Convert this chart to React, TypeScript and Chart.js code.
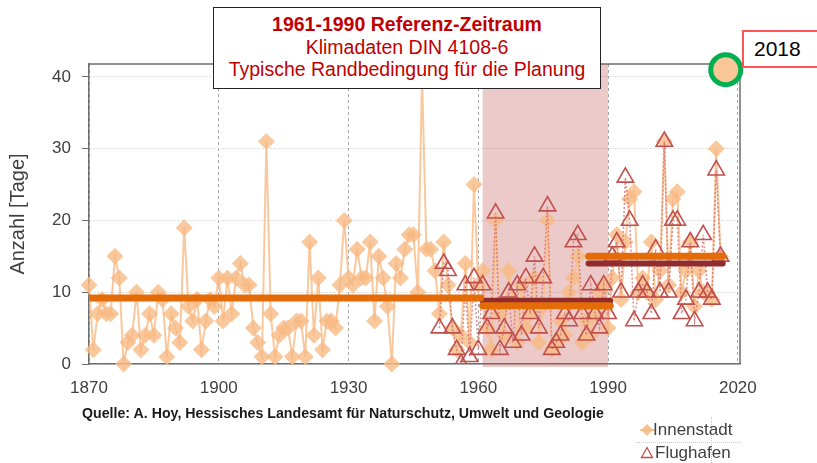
import React, { useEffect, useRef } from "react";
import { Chart, registerables } from "chart.js";

Chart.register(...registerables);

// ---------- data ----------
const innenstadtStartYear = 1870;
const innenstadtValues = [
  // 1870-1879
  11, 2, 7, 9, 7, 7, 15, 12, 0, 3,
  // 1880-1889
  4, 10, 2, 4, 7, 4, 10, 9, 1, 7,
  // 1890-1899
  5, 3, 19, 8, 6, 9, 2, 6, 9, 8,
  // 1900-1909
  12, 6, 12, 7, 12, 14, 11, 11, 5, 3,
  // 1910-1919
  1, 31, 7, 1, 4, 5, 5, 1, 6, 6,
  // 1920-1929
  1, 17, 4, 12, 2, 6, 6, 5, 11, 20,
  // 1930-1939
  12, 11, 16, 12, 12, 17, 6, 15, 12, 8,
  // 1940-1949
  0, 14, 12, 16, 18, 18, 10, 40, 16, 16,
  // 1950-1959
  13, 7, 17, 11, 5, 2, 4, 14, 3, 25,
  // 1960
  11,
  // 1961-1970
  13, 5, 2, 20, 7, 4, 13, 9, 3, 11,
  // 1971-1980
  5, 7, 12, 3, 8, 20, 2, 3, 6, 4,
  // 1981-1990
  10, 12, 15, 3, 6, 4, 7, 10, 11, 5,
  // 1991-2000
  12, 18, 9, 17, 23, 24, 10, 12, 10, 17,
  // 2001-2010
  9, 13, 31, 11, 23, 24, 10, 13, 17, 8,
  // 2011-2016
  13, 10, 10, 9, 30, 15,
];

const flughafenStartYear = 1951;
const flughafenValues = [
  // 1951-1960
  5, 14, 13, 5, 2, 0, 11, 1, 12, 2,
  // 1961-1970
  11, 5, 7, 21, 2, 5, 10, 3, 11, 4,
  // 1971-1980
  12, 7, 15, 5, 12, 22, 2, 3, 4, 7,
  // 1981-1990
  6, 17, 18, 7, 4, 11, 7, 5, 11, 7,
  // 1991-2000
  15, 17, 10, 26, 20, 6, 10, 11, 10, 7,
  // 2001-2010
  16, 10, 31, 10, 20, 20, 7, 9, 17, 6,
  // 2011-2016
  10, 18, 10, 9, 27, 15,
];

// period means: [from, to, value]
const innenstadtMeanFrom = [1870, 1961, 1985.5];
const innenstadtMeanTo = [1960.5, 1990.5, 2016.5];
const innenstadtMeanValue = [9.2, 8.1, 15.0];

const flughafenMeanFrom = [1961, 1985.5];
const flughafenMeanTo = [1990.5, 2016.5];
const flughafenMeanValue = [8.8, 14.0];

const highlightYear = 2017.2;
const highlightValue = 41;

const referencePeriod = [1961, 1990];

const xTickValues = [1870, 1900, 1930, 1960, 1990, 2020];
const yTickValues = [0, 10, 20, 30, 40];

const FONT = '"Liberation Sans", Arial, Helvetica, sans-serif';

export default function App() {
  const ref = useRef<HTMLCanvasElement>(null);

  useEffect(() => {
    if (!ref.current) return;

    const innenstadtPoints = innenstadtValues.map((v, i) => ({ x: innenstadtStartYear + i, y: v }));
    const flughafenPoints = flughafenValues.map((v, i) => ({ x: flughafenStartYear + i, y: v }));

    const meanSets: any[] = [];
    innenstadtMeanValue.forEach((v, i) => {
      meanSets.push({
        type: "line",
        data: [
          { x: innenstadtMeanFrom[i], y: v },
          { x: innenstadtMeanTo[i], y: v },
        ],
        borderColor: "#e36c09",
        borderWidth: 7,
        borderCapStyle: "round",
        pointRadius: 0,
        order: 0,
      });
    });
    flughafenMeanValue.forEach((v, i) => {
      meanSets.push({
        type: "line",
        data: [
          { x: flughafenMeanFrom[i], y: v },
          { x: flughafenMeanTo[i], y: v },
        ],
        borderColor: "#922c2c",
        borderWidth: 6,
        borderCapStyle: "round",
        pointRadius: 0,
        order: 1,
      });
    });

    const framePlugin = {
      id: "framePlugin",
      beforeDatasetsDraw(chart: any) {
        const { ctx, chartArea: a, scales } = chart;
        const x = scales.x;
        const x1 = x.getPixelForValue(referencePeriod[0]);
        const x2 = x.getPixelForValue(referencePeriod[1]);
        ctx.save();
        ctx.fillStyle = "rgba(192,80,77,0.3)";
        ctx.fillRect(x1, a.top, x2 - x1, a.bottom - a.top + 3);
        ctx.strokeStyle = "#6e6e6e";
        ctx.lineWidth = 1.5;
        ctx.beginPath();
        ctx.moveTo(a.left, a.top);
        ctx.lineTo(a.right, a.top);
        ctx.lineTo(a.right, a.bottom);
        ctx.stroke();
        ctx.restore();
      },
    };

    const chart = new Chart(ref.current, {
      type: "line",
      data: {
        datasets: [
          ...meanSets,
          {
            label: "Flughafen",
            data: flughafenPoints,
            borderColor: "rgba(214,120,118,0.85)",
            borderWidth: 1.5,
            borderDash: [2, 2],
            pointStyle: "triangle",
            pointRadius: 9.5,
            pointBackgroundColor: "rgba(255,255,255,0)",
            pointBorderColor: "#c0504d",
            pointBorderWidth: 1.6,
            order: 2,
          },
          {
            label: "Innenstadt",
            data: innenstadtPoints,
            borderColor: "rgba(248,190,140,0.85)",
            borderWidth: 2,
            pointStyle: "rectRot",
            pointRadius: 8.5,
            pointBackgroundColor: "rgba(247,186,132,0.8)",
            pointBorderWidth: 0,
            clip: 10,
            order: 3,
          },
          {
            label: "2018",
            data: [{ x: highlightYear, y: highlightValue }],
            showLine: false,
            pointStyle: "circle",
            pointRadius: 15,
            pointBackgroundColor: "#f8c797",
            pointBorderColor: "#00b050",
            pointBorderWidth: 5,
            clip: false,
            order: -1,
          },
        ] as any,
      },
      options: {
        responsive: false,
        animation: false,
        events: [],
        layout: { padding: { left: 0, top: 64, right: 77, bottom: 59 } },
        plugins: {
          legend: { display: false },
          tooltip: { enabled: false },
        },
        scales: {
          x: {
            type: "linear",
            min: 1870,
            max: 2020.5,
            afterBuildTicks: (s: any) => {
              s.ticks = xTickValues.map((v) => ({ value: v }));
            },
            afterFit: (s: any) => {
              s.height = 40;
            },
            grid: { color: "#a8a8a8", lineWidth: 1, drawTicks: false },
            border: { display: true, color: "#6e6e6e", width: 1.5, dash: [3, 3] },
            ticks: {
              padding: 14,
              color: "#404040",
              font: { family: FONT, size: 17 },
              maxRotation: 0,
              autoSkip: false,
              callback: (v: any) => String(v),
            },
          },
          y: {
            type: "linear",
            min: 0,
            max: 41.8,
            afterBuildTicks: (s: any) => {
              s.ticks = yTickValues.map((v) => ({ value: v }));
            },
            afterFit: (s: any) => {
              s.width = 89;
            },
            grid: { color: "#d6d6d6", lineWidth: 1, tickColor: "#6e6e6e", tickLength: 7, tickBorderDash: [] },
            border: { display: true, color: "#6e6e6e", width: 1.5, dash: [2, 2] },
            ticks: {
              padding: 11,
              color: "#404040",
              font: { family: FONT, size: 17 },
              callback: (v: any) => String(v),
            },
            title: {
              display: true,
              text: "Anzahl [Tage]",
              color: "#404040",
              font: { family: FONT, size: 20 },
              padding: { top: 6, bottom: 0 },
            },
          },
        },
      },
      plugins: [framePlugin],
    } as any);

    return () => chart.destroy();
  }, []);

  return (
    <div
      style={{
        position: "fixed",
        left: 0,
        top: 0,
        width: 817,
        height: 463,
        background: "#fff",
        overflow: "hidden",
        fontFamily: FONT,
      }}
    >
      <canvas ref={ref} width={817} height={463} style={{ width: 817, height: 463, display: "block" }} />

      {/* title annotation */}
      <div
        style={{
          position: "absolute",
          left: 213,
          top: 7,
          width: 388,
          height: 82,
          boxSizing: "border-box",
          border: "1.5px solid #222",
          background: "#fff",
          color: "#c00000",
          textAlign: "center",
          paddingTop: 5,
          lineHeight: "22.5px",
          fontSize: 19.5,
        }}
      >
        <div style={{ fontWeight: "bold" }}>1961-1990 Referenz-Zeitraum</div>
        <div>Klimadaten DIN 4108-6</div>
        <div>Typische Randbedingung für die Planung</div>
      </div>

      {/* 2018 annotation */}
      <div
        style={{
          position: "absolute",
          left: 742,
          top: 30,
          width: 90,
          height: 38,
          boxSizing: "border-box",
          border: "2px solid #ff5454",
          background: "#fff",
          color: "#000",
          fontSize: 21,
          lineHeight: "34px",
          paddingLeft: 10,
        }}
      >
        2018
      </div>

      {/* source */}
      <div
        style={{
          position: "absolute",
          left: 82,
          top: 404,
          fontSize: 14.2,
          fontWeight: "bold",
          color: "#1a1a1a",
          lineHeight: "18px",
          whiteSpace: "nowrap",
        }}
      >
        Quelle: A. Hoy, Hessisches Landesamt für Naturschutz, Umwelt und Geologie
      </div>

      {/* legend */}
      <div style={{ position: "absolute", left: 636, top: 442, width: 104, height: 0, borderTop: "1px dotted #c8c8c8" }} />
      <div style={{ position: "absolute", left: 711, top: 417, width: 0, height: 46, borderLeft: "1px dotted #c8c8c8" }} />
      <svg style={{ position: "absolute", left: 636, top: 418 }} width={24} height={45}>
        <line x1={4} y1={12} x2={20} y2={12} stroke="rgba(248,190,140,0.9)" strokeWidth={2} />
        <polygon points="11,6 17,12 11,18 5,12" fill="rgba(247,186,132,0.9)" />
        <polygon points="11,29.5 16.5,39.5 5.5,39.5" fill="none" stroke="#c0504d" strokeWidth={1.3} />
      </svg>
      <div
        style={{
          position: "absolute",
          left: 653,
          top: 420,
          fontSize: 17,
          lineHeight: "20px",
          color: "#404040",
          whiteSpace: "nowrap",
        }}
      >
        Innenstadt
      </div>
      <div
        style={{
          position: "absolute",
          left: 655,
          top: 443,
          fontSize: 17,
          lineHeight: "20px",
          color: "#404040",
          whiteSpace: "nowrap",
        }}
      >
        Flughafen
      </div>
    </div>
  );
}
